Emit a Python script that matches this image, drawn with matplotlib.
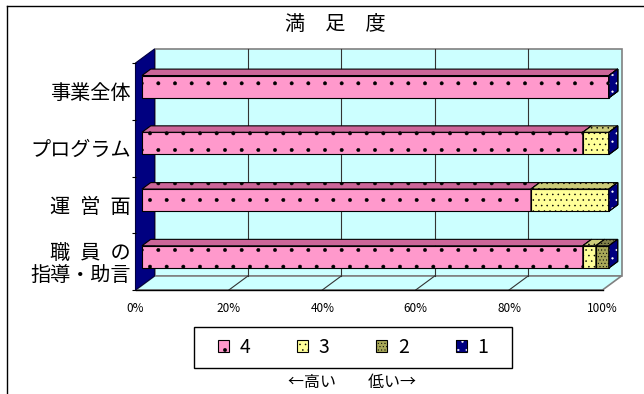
import matplotlib

matplotlib.use("Agg")
import matplotlib.pyplot as plt
from matplotlib.legend_handler import HandlerTuple
from matplotlib.lines import Line2D
from matplotlib.patches import Patch, Polygon, Rectangle

plt.rcParams["font.family"] = ["Noto Sans CJK JP", "DejaVu Sans"]
plt.rcParams["hatch.linewidth"] = 0.35

CATEGORIES = ["事業全体", "プログラム", "運\u2002営\u2002面", "職\u2002員\u2002の\n指導・助言"]
SCORES = ["4", "3", "2", "1"]
SHARE_4 = [100.0, 94.4, 83.3, 94.4]
SHARE_3 = [0.0, 5.6, 16.7, 2.8]
SHARE_2 = [0.0, 0.0, 0.0, 2.8]
SHARE_1 = [0.0, 0.0, 0.0, 0.0]
X_TICKS = [0, 20, 40, 60, 80, 100]

FACE = {"4": "#FF99CC", "3": "#FFFF99", "2": "#A8A858", "1": "#000080"}
TOP = {"4": "#CC6699", "3": "#CCCC7A", "2": "#80804A", "1": "#000066"}
HATCH = {"4": ".", "3": "...", "2": ".....", "1": ".."}
HATCH_COLOR = {"4": "black", "3": "black", "2": "black", "1": "white"}

# one full depth step of the 3-D box, in data units (x in %, y in categories)
DX, DY = 4.07, -0.247
BAR_FRONT, BAR_BACK = 0.34, 0.8
BAR_H = 0.39
WALL = "#CCFFFF"


def shift(x, y, d):
    return (x + d * DX, y + d * DY)


def face(ax, pts, color, hatch=None, hatch_color="black", edge="black", lw=0.8, z=3):
    if hatch:
        ax.add_patch(Polygon(pts, closed=True, facecolor=color, edgecolor=hatch_color,
                             linewidth=0, hatch=hatch, clip_on=False, zorder=z))
        ax.add_patch(Polygon(pts, closed=True, fill=False, edgecolor=edge,
                             linewidth=lw, clip_on=False, zorder=z))
    else:
        ax.add_patch(Polygon(pts, closed=True, facecolor=color, edgecolor=edge,
                             linewidth=lw, clip_on=False, zorder=z))


def main() -> None:
    fig = plt.figure(figsize=(6.44, 3.94), dpi=100)
    ax = fig.add_axes((135.5 / 644, 1 - 290 / 394, 467 / 644, 227 / 394))
    ax.set_xlim(0, 100)
    ax.set_ylim(3.5, -0.5)
    for spine in ax.spines.values():
        spine.set_visible(False)

    y_top, y_bot = -0.5, 3.5
    # back wall, floor, left wall
    face(ax, [shift(0, y_top, 1), shift(100, y_top, 1), shift(100, y_bot, 1), shift(0, y_bot, 1)],
         WALL, edge="#808080", lw=1.2, z=1)
    face(ax, [shift(0, y_bot, 0), shift(100, y_bot, 0), shift(100, y_bot, 1), shift(0, y_bot, 1)],
         WALL, edge="#808080", lw=1.2, z=1)
    face(ax, [shift(0, y_top, 0), shift(0, y_top, 1), shift(0, y_bot, 1), shift(0, y_bot, 0)],
         "#000080", edge="#000040", lw=0.8, z=1.2)
    ax.plot([0, 100], [y_bot, y_bot], color="black", linewidth=1.0, clip_on=False, zorder=1.5)

    for x in X_TICKS[1:-1]:
        bx, by0 = shift(x, y_top, 1)
        _, by1 = shift(x, y_bot, 1)
        ax.plot([bx, bx], [by0, by1], color="#333333", linewidth=0.8, clip_on=False, zorder=1.4)
        fx, fy = shift(x, y_bot, 0)
        ax.plot([bx, fx], [by1, fy], color="#333333", linewidth=0.8, clip_on=False, zorder=1.4)

    shares = {"4": SHARE_4, "3": SHARE_3, "2": SHARE_2, "1": SHARE_1}
    for i in range(len(CATEGORIES)):
        y0, y1 = i - BAR_H / 2, i + BAR_H / 2
        left = 0.0
        for score in SCORES:
            val = shares[score][i]
            x0, x1 = left, left + val
            f, b = BAR_FRONT, BAR_BACK
            if val > 0:
                face(ax, [shift(x0, y0, f), shift(x1, y0, f), shift(x1, y1, f), shift(x0, y1, f)],
                     FACE[score], HATCH[score], HATCH_COLOR[score], z=3)
                face(ax, [shift(x0, y0, f), shift(x1, y0, f), shift(x1, y0, b), shift(x0, y0, b)],
                     TOP[score], HATCH[score], HATCH_COLOR[score], z=3)
            face(ax, [shift(x1, y0, f), shift(x1, y1, f), shift(x1, y1, b), shift(x1, y0, b)],
                 FACE[score], HATCH[score], HATCH_COLOR[score], z=3)
            left = x1

    ax.set_xticks(X_TICKS)
    ax.set_xticklabels([f"{t}%" for t in X_TICKS], fontsize=8.5)
    ax.tick_params(axis="x", length=0, pad=9)
    ax.set_yticks(range(len(CATEGORIES)))
    ax.set_yticklabels(CATEGORIES, fontsize=14.5, linespacing=1.05)
    ax.tick_params(axis="y", which="major", length=0, pad=3.5)
    ax.set_yticks([-0.5, 0.5, 1.5, 2.5, 3.5], minor=True)
    ax.tick_params(axis="y", which="minor", length=3, width=0.8, direction="out")
    ax.patch.set_visible(False)

    fig.text(335 / 644, 1 - 24 / 394, "満\u3000足\u3000度", ha="center", va="center", fontsize=14.5)

    handles = []
    for score in SCORES:
        if HATCH_COLOR[score] == "white":
            handles.append((Patch(facecolor=FACE[score], edgecolor="white", linewidth=0, hatch=HATCH[score]),
                            Patch(fill=False, edgecolor="black", linewidth=0.8)))
        else:
            handles.append(Patch(facecolor=FACE[score], edgecolor="black", linewidth=0.8, hatch=HATCH[score]))
    fig.legend(handles, SCORES, loc="center", bbox_to_anchor=(353 / 644, 1 - 347.5 / 394), ncol=4,
               frameon=False, fontsize=14, handlelength=0.57, handleheight=0.57,
               handletextpad=0.55, columnspacing=2.4, handler_map={tuple: HandlerTuple(ndivide=1)})
    fig.add_artist(Rectangle((194 / 644, 1 - 368 / 394), 318 / 644, 41 / 394, transform=fig.transFigure,
                             fill=False, edgecolor="black", linewidth=1.0))
    fig.text(351.5 / 644, 1 - 383 / 394, "←高い\u3000\u3000低い→", ha="center", va="center", fontsize=11.5)

    # outer chart-area frame (only left and top edges are in view)
    fig.add_artist(Line2D([6.5 / 644, 6.5 / 644], [0, 1 - 5.5 / 394], transform=fig.transFigure,
                          color="black", linewidth=1.0))
    fig.add_artist(Line2D([6.5 / 644, 1], [1 - 5.5 / 394, 1 - 5.5 / 394], transform=fig.transFigure,
                          color="black", linewidth=1.0))

    fig.savefig("out.png", dpi=100)


if __name__ == "__main__":
    main()
